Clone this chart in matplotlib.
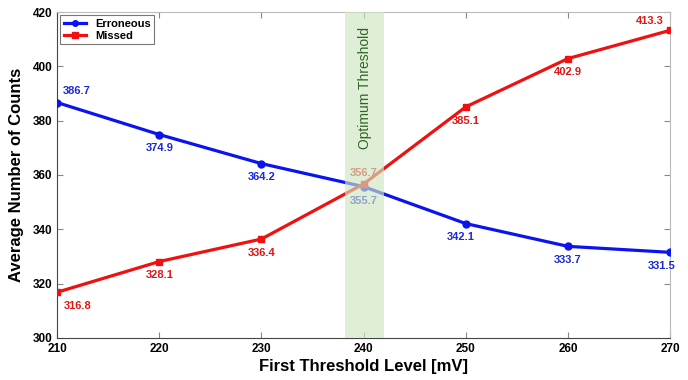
import matplotlib
matplotlib.use("Agg")
import matplotlib.pyplot as plt

x = [210, 220, 230, 240, 250, 260, 270]
erroneous = [386.7, 374.9, 364.2, 355.7, 342.1, 333.7, 331.5]
missed = [316.8, 328.1, 336.4, 356.7, 385.1, 402.9, 413.3]
band = (238.2, 242.0)

plt.rcParams['font.family'] = ['Liberation Sans', 'DejaVu Sans']
plt.rcParams['font.weight'] = 'bold'

fig = plt.figure(figsize=(6.88, 3.8), dpi=100)
ax = fig.add_axes([0.083, 0.111, 0.891, 0.857])

ax.plot(x, erroneous, color='#0a14f0', lw=2.3, marker='o', ms=5, label='Erroneous', zorder=3)
ax.plot(x, missed, color='#f01010', lw=2.3, marker='s', ms=5, label='Missed', zorder=3)

ax.axvspan(band[0], band[1], color='#cfe5c0', alpha=0.65, zorder=4, lw=0)
ax.text((band[0] + band[1]) / 2, 392, 'Optimum Threshold', rotation=90, ha='center', va='center',
        color='#2f6424', fontsize=10, fontweight='normal', zorder=5)

e_off = [(4, 8), (0, -10), (0, -10), (0, -10), (-4, -10), (0, -10), (-6, -10)]
m_off = [(5, -10), (0, -10), (0, -10), (0, 8), (0, -10), (0, -10), (-5, 7)]
for xi, yi, off in zip(x, erroneous, e_off):
    ax.annotate(f'{yi:.1f}', (xi, yi), xytext=off, textcoords='offset points',
                ha='left' if xi == 210 else 'center', va='center', color='#1a2ad8',
                fontsize=8, fontweight='bold', zorder=3)
for xi, yi, off in zip(x, missed, m_off):
    ax.annotate(f'{yi:.1f}', (xi, yi), xytext=off, textcoords='offset points',
                ha='left' if xi == 210 else ('right' if xi == 270 else 'center'), va='center',
                color='#e01515', fontsize=8, fontweight='bold', zorder=3)

ax.set_xlim(210, 270)
ax.set_ylim(300, 420)
ax.set_xticks(x)
ax.set_yticks(range(300, 421, 20))
ax.tick_params(labelsize=8.5, direction='in', top=True, right=True, color='#888888', length=4)
for s in ['top', 'right']:
    ax.spines[s].set_color('#bbbbbb')
for s in ['left', 'bottom']:
    ax.spines[s].set_color('#444444')
ax.set_xlabel('First Threshold Level [mV]', fontsize=12, fontweight='bold', labelpad=3)
ax.set_ylabel('Average Number of Counts', fontsize=12, fontweight='bold', labelpad=6)

leg = ax.legend(loc='upper left', fontsize=8, frameon=True, fancybox=False, borderpad=0.3,
                handlelength=2.0, labelspacing=0.2, borderaxespad=0.3, markerscale=0.8)
leg.get_frame().set_edgecolor('#555555')
leg.get_frame().set_linewidth(0.8)

fig.savefig('out.png', dpi=100)
